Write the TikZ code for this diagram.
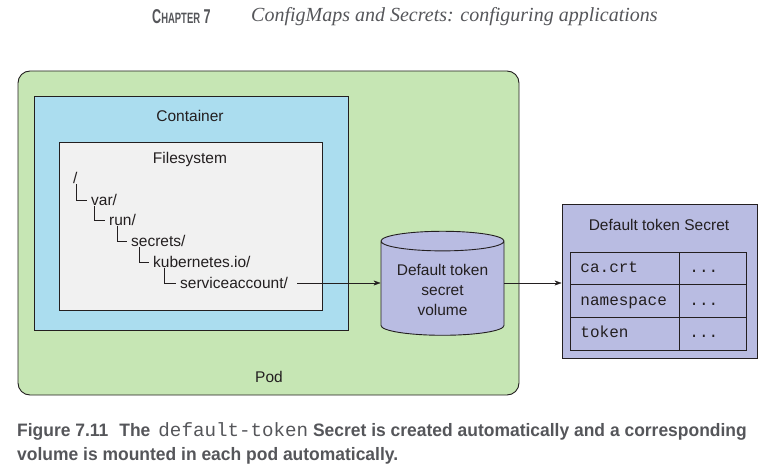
\documentclass[tikz,border=0pt]{standalone}
\usepackage{fontspec}
\setmainfont{Liberation Sans}
\setmonofont{Liberation Mono}
\newfontfamily\titlefont{Liberation Serif}
\newfontfamily\chapfont[FakeStretch=0.63]{Liberation Sans}
\newfontfamily\capfont[FakeStretch=0.97]{Liberation Sans}
\usetikzlibrary{shapes.geometric, arrows.meta}
\definecolor{ink}{HTML}{231F20}
\definecolor{greytext}{HTML}{55565A}
\definecolor{podgreen}{HTML}{C6E6B4}
\definecolor{ctrblue}{HTML}{ABDDEF}
\definecolor{fsgrey}{HTML}{F1F1F1}
\definecolor{lavender}{HTML}{B9BCE2}

\begin{document}
\begin{tikzpicture}[x=1pt, y=-1pt, >={Stealth[length=7pt, width=5pt]}, text=ink,
    font=\fontsize{15.5}{20}\selectfont,
    box/.style={draw=ink, line width=0.9pt},
    dir/.style={anchor=west, inner sep=0pt},
    cell/.style={draw=ink, line width=0.9pt, anchor=north west, minimum height=32.5pt, inner xsep=10pt, text height=11pt, text depth=3pt, align=left, font=\ttfamily\fontsize{16}{18}\selectfont},]
        \useasboundingbox (0,0) rectangle (766,473);
        % header
        \node[anchor=west, inner sep=0pt, text=greytext, font=\chapfont\bfseries\fontsize{20}{22}\selectfont] (chapter) at (152,17) {C{\fontsize{15}{16}\selectfont HAPTER} 7};
        \node[anchor=west, inner sep=0pt, text=greytext, font=\titlefont\itshape\fontsize{20}{22}\selectfont] (title) at (251,17) {ConfigMaps and Secrets: configuring applications};
        % pod, container, filesystem
        \node[box, fill=podgreen, rounded corners=12pt, minimum width=501pt, minimum height=324pt] (pod) at (268.5,233) {};
        \node (podlabel) at (269,377) {Pod};
        \node[box, fill=ctrblue, minimum width=314pt, minimum height=234pt] (container) at (191,213) {};
        \node (ctrlabel) at (190,116) {Container};
        \node[box, fill=fsgrey, minimum width=263pt, minimum height=168pt] (fs) at (190.5,226) {};
        \node (fslabel) at (190,159) {Filesystem};
        % directory tree
        \node[dir] (root) at (73,178) {/};
        \node[dir] (var) at (91,200) {var/};
        \node[dir] (run) at (109,220) {run/};
        \node[dir] (secrets) at (131,241) {secrets/};
        \node[dir] (k8s) at (153,262) {kubernetes.io/};
        \node[dir] (svc) at (180,283) {serviceaccount/};
        \draw[ink] ([xshift=3pt]root.south west) |- ([xshift=-4pt]var.west);
        \draw[ink] ([xshift=3pt]var.south west) |- ([xshift=-4pt]run.west);
        \draw[ink] ([xshift=8pt]run.south west) |- ([xshift=-4pt]secrets.west);
        \draw[ink] ([xshift=8pt]secrets.south west) |- ([xshift=-4pt]k8s.west);
        \draw[ink] ([xshift=11pt]k8s.south west) |- ([xshift=-4pt]svc.west);
        % volume
        \node[cylinder, shape border rotate=90, draw=ink, line width=0.9pt, fill=lavender, aspect=0.2, minimum width=123pt, minimum height=104pt, align=center] (volume) at (442.5,290) {Default token\\secret\\volume};
        % secret
        \node[box, fill=lavender, minimum width=195pt, minimum height=154pt] (secret) at (659.5,281) {};
        \node (secretlabel) at (659,225) {Default token Secret};
        \node[cell, text width=89pt] (key1) at (570,252) {ca.crt};
        \node[cell, text width=47pt] (val1) at (679,252) {...};
        \node[cell, text width=89pt] (key2) at (570,284.5) {namespace};
        \node[cell, text width=47pt] (val2) at (679,284.5) {...};
        \node[cell, text width=89pt] (key3) at (570,317) {token};
        \node[cell, text width=47pt] (val3) at (679,317) {...};
        \draw[->, ink] ([xshift=9pt]svc.east) -- (svc.east -| volume.west);
        \draw[->, ink] (volume.east |- svc.east) -- (svc.east -| secret.west);
        % caption
        \node[anchor=north west, align=left, inner sep=0pt, text=greytext, font=\capfont\bfseries\fontsize{18}{24}\selectfont] (caption) at (17,422) {Figure 7.11\hskip 11pt The\hskip 8pt{\mdseries\ttfamily\fontsize{19.2}{24}\selectfont default-token} Secret is created automatically and a corresponding\\volume is mounted in each pod automatically.};
      \end{tikzpicture}
\end{document}
